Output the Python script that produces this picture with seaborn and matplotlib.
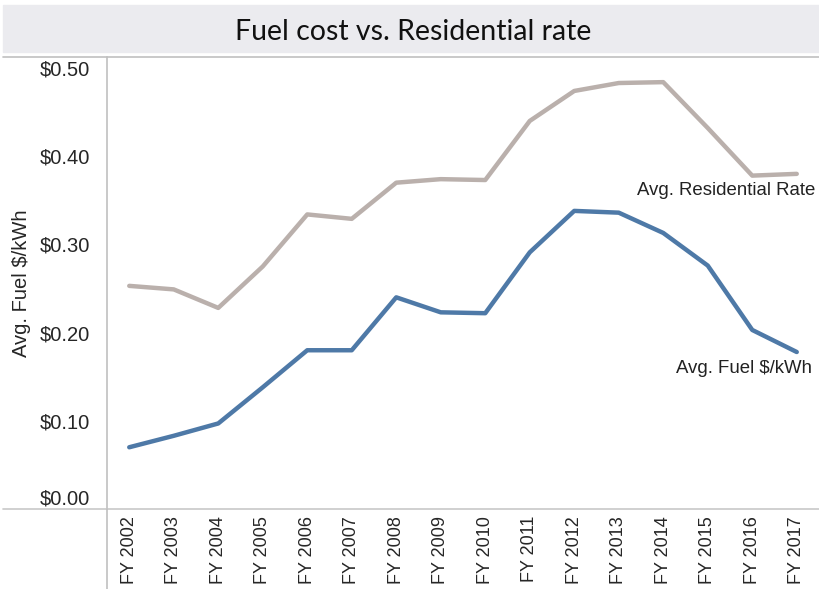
import matplotlib
matplotlib.use("Agg")
import matplotlib.pyplot as plt
import matplotlib.transforms as mtransforms
from matplotlib.lines import Line2D
from matplotlib.patches import Rectangle
import seaborn as sns
import pandas as pd

years = ["FY 2002", "FY 2003", "FY 2004", "FY 2005", "FY 2006", "FY 2007", "FY 2008", "FY 2009",
         "FY 2010", "FY 2011", "FY 2012", "FY 2013", "FY 2014", "FY 2015", "FY 2016", "FY 2017"]
residential = [0.253, 0.249, 0.228, 0.275, 0.334, 0.329, 0.370, 0.374,
               0.373, 0.440, 0.474, 0.483, 0.484, 0.432, 0.378, 0.380]
fuel = [0.070, 0.083, 0.097, 0.138, 0.180, 0.180, 0.240, 0.223,
        0.222, 0.291, 0.338, 0.336, 0.313, 0.276, 0.203, 0.178]
series_names = ["Avg. Residential Rate", "Avg. Fuel $/kWh"]
colors = ["#bab0ac", "#4e79a7"]
yticks = [0.0, 0.1, 0.2, 0.3, 0.4, 0.5]
ytick_labels = ["$0.00", "$0.10", "$0.20", "$0.30", "$0.40", "$0.50"]
title = "Fuel cost vs. Residential rate"
ylabel = "Avg. Fuel $/kWh"

sns.set_style("white")
plt.rcParams["font.family"] = ["Liberation Sans", "DejaVu Sans"]

df = pd.DataFrame({
    "x": list(range(len(years))) * 2,
    "value": residential + fuel,
    "series": [series_names[0]] * len(years) + [series_names[1]] * len(years),
})

W, H = 819, 589
fig = plt.figure(figsize=(W / 100, H / 100), dpi=100)
ax = fig.add_axes([107 / W, 1 - 509 / H, (819 - 107) / W, (509 - 57) / H])

sns.lineplot(data=df, x="x", y="value", hue="series", palette=colors,
             hue_order=series_names, linewidth=3.2, legend=False, ax=ax,
             solid_capstyle="round", solid_joinstyle="round")

ax.set_xlim(-0.5, len(years) - 0.5)
ax.set_ylim(0, 0.5125)
ax.set_xticks(range(len(years)))
ax.set_xticklabels(years, rotation=90, fontsize=13, va="top")
ax.set_xticks([i + 0.5 for i in range(len(years) - 1)], minor=True)
ax.tick_params(axis="x", which="major", length=0, pad=5)
ax.tick_params(axis="x", which="minor", length=6, color="#c8c8c8", width=1)
ax.set_yticks(yticks)
ax.set_yticklabels(ytick_labels, fontsize=14.5)
ax.tick_params(axis="y", length=4, color="#c8c8c8", width=1, pad=8)
ax.set_xlabel("")
ax.set_ylabel(ylabel, fontsize=14.5)
ax.yaxis.label.set_va("center")
ax.yaxis.set_label_coords((22 - 107) / 712, 0.5)

# shift $0.00 label up like the reference
lab0 = ax.get_yticklabels()[0]
lab0.set_transform(lab0.get_transform() + mtransforms.ScaledTranslation(0, 12 / 100, fig.dpi_scale_trans))

for s in ["top", "right", "bottom"]:
    ax.spines[s].set_visible(False)
ax.spines["left"].set_color("#c0c0c0")
ax.spines["left"].set_linewidth(1.2)

# end-of-line labels
vals = [residential, fuel]
offsets = [(19, -17), (15, -16)]
for name, v, off in zip(series_names, vals, offsets):
    ax.annotate(name, xy=(len(years) - 1, v[-1]), xytext=off,
                textcoords="offset pixels", ha="right", va="center", fontsize=13.4, color="#222222")

# frame decorations (Tableau style)
fig.patches.append(Rectangle((3 / W, 1 - 52 / H), (W - 3) / W, 47 / H,
                             transform=fig.transFigure, color="#ebebef", zorder=0))
fig.lines.append(Line2D([3 / W, 1], [1 - 57 / H] * 2, transform=fig.transFigure, color="#c0c0c0", lw=1.2))
fig.lines.append(Line2D([3 / W, 1], [1 - 509 / H] * 2, transform=fig.transFigure, color="#c8c8c8", lw=1.2))
fig.lines.append(Line2D([107 / W] * 2, [0, 1 - 509 / H], transform=fig.transFigure, color="#c0c0c0", lw=1.2))
fig.text(413.5 / W, 1 - 40 / H, title, ha="center", va="baseline", fontsize=20.5,
         family=["Lato", "DejaVu Sans"], color="#111111")

fig.savefig("out.png", dpi=100)
